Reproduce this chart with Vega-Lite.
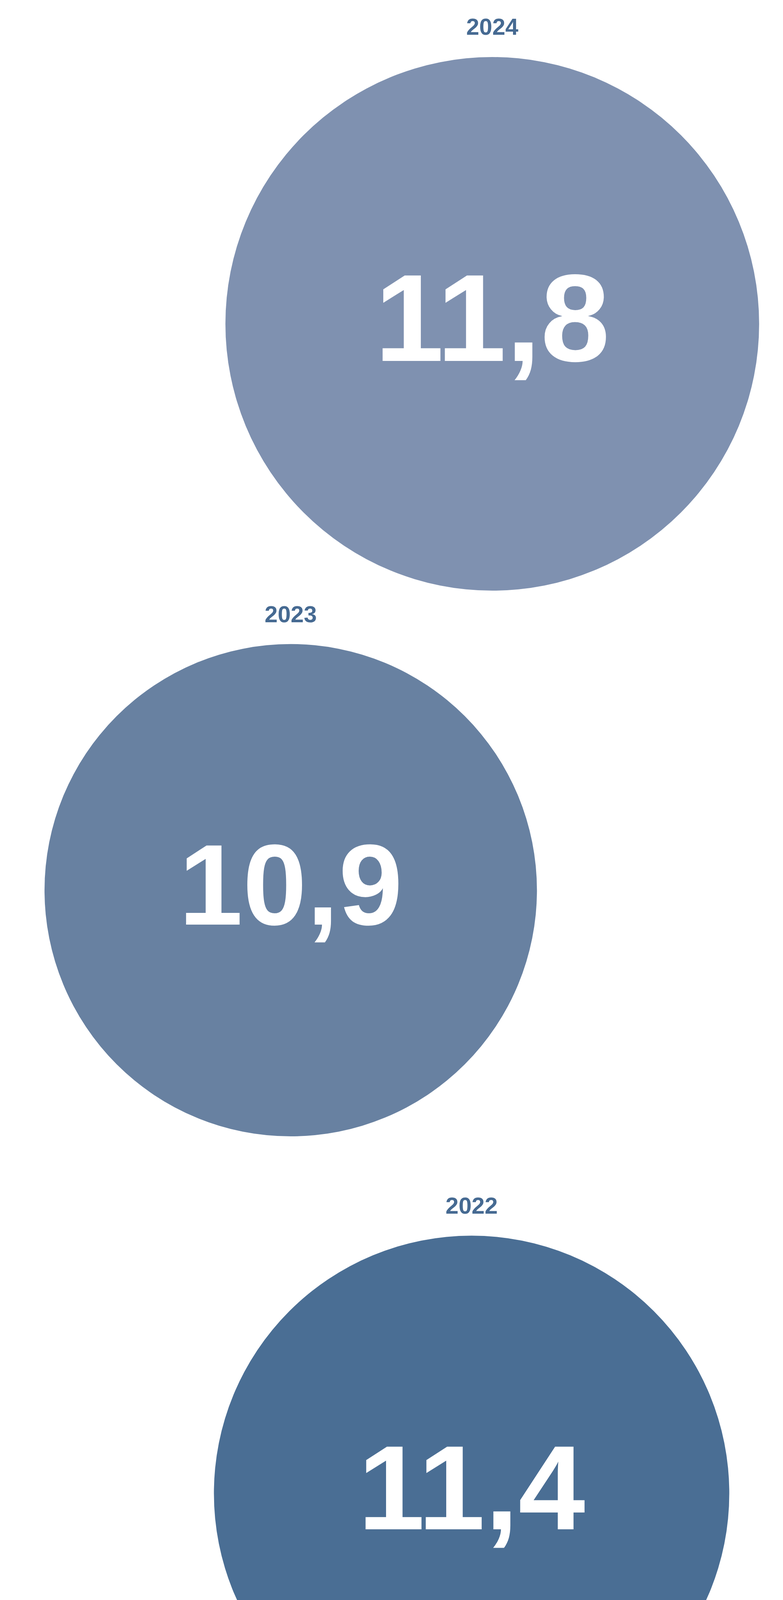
{
  "$schema": "https://vega.github.io/schema/vega-lite/v6.json",
  "width": 2004,
  "height": 5733,
  "autosize": {"type": "none"},
  "padding": 0,
  "background": "white",
  "config": {
    "view": {"stroke": null},
    "locale": {
      "number": {"decimal": ",", "thousands": ".", "grouping": [3], "currency": ["", " €"]}
    }
  },
  "data": {
    "values": [
      {"year": "2024", "value": 11.8, "cx": 62.87, "cy": 41.37},
      {"year": "2023", "value": 10.9, "cx": 37.13, "cy": 113.72},
      {"year": "2022", "value": 11.4, "cx": 60.23, "cy": 190.77},
      {"year": "2010", "value": 8.4, "cx": 28.49, "cy": 251.85},
      {"year": "2000", "value": 4.9, "cx": 79.44, "cy": 267.22}
    ]
  },
  "encoding": {
    "x": {"field": "cx", "type": "quantitative", "scale": {"domain": [0, 100]}, "axis": null},
    "y": {"field": "cy", "type": "quantitative", "scale": {"domain": [0, 286.08], "reverse": true}, "axis": null}
  },
  "layer": [
    {
      "mark": {"type": "circle", "opacity": 1},
      "encoding": {
        "size": {
          "field": "value",
          "type": "quantitative",
          "scale": {"type": "pow", "exponent": 2, "zero": false, "domain": [4.9, 11.8], "range": [300304, 1865956]},
          "legend": null
        },
        "color": {
          "field": "year",
          "type": "nominal",
          "scale": {
            "domain": ["2024", "2023", "2022", "2010", "2000"],
            "range": ["#7f91b0", "#6881a1", "#4a6e94", "#8f9fb9", "#aab3cc"]
          },
          "legend": null
        }
      }
    },
    {
      "mark": {
        "type": "text",
        "font": "Liberation Sans",
        "fontWeight": "bold",
        "color": "#ffffff",
        "align": "center",
        "baseline": "middle"
      },
      "encoding": {
        "text": {"field": "value", "type": "quantitative", "format": ".1f"},
        "size": {
          "field": "value",
          "type": "quantitative",
          "scale": {"zero": false, "domain": [4.9, 11.8], "range": [136, 318]},
          "legend": null
        }
      }
    },
    {
      "transform": [
        {"calculate": "datum.cy - (3.0115 * datum.value + 1.4)", "as": "labelY"}
      ],
      "mark": {
        "type": "text",
        "font": "Liberation Sans",
        "fontWeight": "bold",
        "fontSize": 60,
        "color": "#466a92",
        "align": "center",
        "baseline": "alphabetic"
      },
      "encoding": {
        "y": {"field": "labelY", "type": "quantitative"},
        "text": {"field": "year", "type": "nominal"}
      }
    }
  ],
  "resolve": {"scale": {"size": "independent"}}
}
